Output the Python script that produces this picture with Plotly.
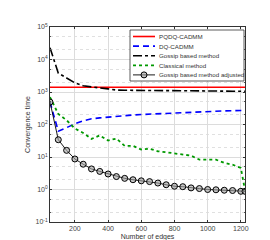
import plotly.graph_objects as go

edges = [50, 100, 150, 200, 250, 300, 350, 400, 450, 500, 550, 600, 650, 700,
         750, 800, 850, 900, 950, 1000, 1050, 1100, 1150, 1200, 1225]

pqdq = [1400] * len(edges)

dq = [490, 62, 80, 105, 130, 150, 160, 170, 180, 190, 196, 203, 208, 214,
      224, 234, 242, 248, 252, 255, 258, 262, 265, 268, 272]

gossip = [23000, 3800, 2700, 1900, 1550, 1400, 1330, 1250, 1150, 1130, 1120,
          1110, 1100, 1100, 1095, 1090, 1085, 1080, 1075, 1070, 1070, 1065,
          1060, 1060, 1060]

classical = [700, 210, 135, 75, 55, 36, 46, 32, 37, 22, 22, 17, 18, 15,
             14, 13, 12, 11, 8.3, 8.3, 8.3, 6.6, 5.8, 4.6, 0.95]

adjusted = [490, 34, 16, 8.7, 6.0, 4.3, 3.6, 3.0, 2.5, 2.2, 2.0, 1.85, 1.75,
            1.58, 1.4, 1.26, 1.22, 1.12, 1.07, 1.0, 0.98, 0.95, 0.93, 0.88, 0.88]

x_ticks = [200, 400, 600, 800, 1000, 1200]
y_ticks = [0.1, 1, 10, 100, 1000, 10000, 100000]
y_ticktext = ["10<sup>-1</sup>", "10<sup>0</sup>", "10<sup>1</sup>", "10<sup>2</sup>",
              "10<sup>3</sup>", "10<sup>4</sup>", "10<sup>5</sup>"]

names = ["PQDQ-CADMM", "DQ-CADMM", "Gossip based method", "Classical method",
         "Gossip based method adjusted"]

styles = [
    dict(color="#ff0000", width=1.6),
    dict(color="#0000ff", width=1.6, dash="6px,4px"),
    dict(color="#000000", width=1.6, dash="dashdot"),
    dict(color="#009900", width=1.8, dash="dot"),
    dict(color="#000000", width=0.9),
]

fig = go.Figure()
for nm, ys, st in zip(names, [pqdq, dq, gossip, classical, adjusted], styles):
    if nm == names[4]:
        fig.add_trace(go.Scatter(x=edges, y=ys, mode="lines+markers", name=nm, line=st,
                                 marker=dict(symbol="circle", size=6,
                                             color="rgba(160,160,160,0.6)",
                                             line=dict(color="#000000", width=1))))
    else:
        fig.add_trace(go.Scatter(x=edges, y=ys, mode="lines", name=nm, line=st))

font = "Liberation Sans, Arial, sans-serif"
L, R, T, B = 42, 33, 19, 26
fig.update_layout(
    width=270, height=240,
    margin=dict(l=L, r=R, t=T, b=B, autoexpand=False),
    paper_bgcolor="white", plot_bgcolor="white",
    showlegend=False,
    font=dict(family=font, size=7, color="#444"),
    xaxis=dict(range=[50, 1225], tickvals=x_ticks, automargin=False,
               showgrid=True, gridcolor="#dcdcdc", gridwidth=0.6,
               showline=True, linecolor="#333", linewidth=0.8, mirror="ticks",
               ticks="inside", ticklen=2, tickcolor="#333",
               zeroline=False,
               title=dict(text="Number of edges", font=dict(size=7, color="#333"), standoff=2),
               tickfont=dict(size=7, color="#444")),
    yaxis=dict(type="log", range=[-1, 5], tickvals=y_ticks, ticktext=y_ticktext,
               automargin=False,
               showgrid=True, gridcolor="#dcdcdc", gridwidth=0.6,
               minor=dict(showgrid=True, gridcolor="#e0e0e0", griddash="dot", gridwidth=0.6,
                          ticks="inside", ticklen=1, tickcolor="#555"),
               showline=True, linecolor="#333", linewidth=0.8, mirror="ticks",
               ticks="inside", ticklen=2, tickcolor="#333",
               zeroline=False,
               title=dict(text="Convergence time", font=dict(size=7, color="#333"), standoff=4),
               tickfont=dict(size=7, color="#444")),
)

# compact legend drawn in paper coordinates
pw, ph = 270 - L - R, 240 - T - B
def px2paper(x, y):
    return (x - L) / pw, (240 - B - y) / ph

x0, y0 = px2paper(122, 22)
x1, y1 = px2paper(236, 73)
fig.add_shape(type="rect", xref="paper", yref="paper", x0=x0, y0=y1, x1=x1, y1=y0,
              line=dict(color="#333", width=0.8), fillcolor="white", layer="above")
for i, (nm, st) in enumerate(zip(names, styles)):
    yy = 28.5 + i * 9.6
    lx0, ly = px2paper(125, yy)
    lx1, _ = px2paper(147, yy)
    fig.add_shape(type="line", xref="paper", yref="paper", x0=lx0, y0=ly, x1=lx1, y1=ly,
                  line=st, layer="above")
    if i == 4:
        cx, cy = px2paper(136, yy)
        rx, ry = 3 / pw, 3 / ph
        fig.add_shape(type="circle", xref="paper", yref="paper",
                      x0=cx - rx, x1=cx + rx, y0=cy - ry, y1=cy + ry,
                      line=dict(color="#000", width=1), fillcolor="rgba(160,160,160,0.6)",
                      layer="above")
    tx, ty = px2paper(149, yy)
    fig.add_annotation(xref="paper", yref="paper", x=tx, y=ty, text=nm, showarrow=False,
                       xanchor="left", yanchor="middle",
                       font=dict(size=6.2, color="#333", family=font))

fig.write_html("out.html")
